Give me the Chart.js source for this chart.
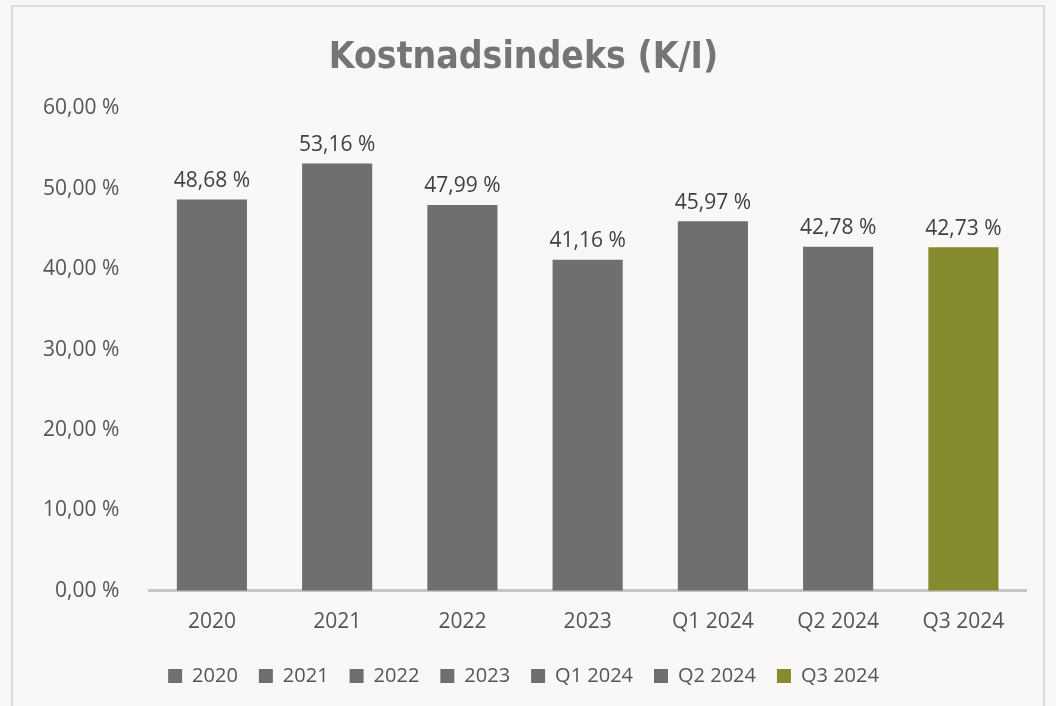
<!DOCTYPE html>
<html>
<head>
<meta charset="utf-8">
<script src="https://cdn.jsdelivr.net/npm/chart.js@4"></script>
<style>
  html, body { margin: 0; padding: 0; background: #f9f8f6; }
  #frame { position: absolute; left: 11px; top: 5px; width: 1034px; height: 720px; border: 2px solid #dcdcdc; box-sizing: border-box; }
  #wrap { position: absolute; left: 0; top: 0; width: 1056px; height: 706px; }
</style>
</head>
<body>
<div id="frame"></div>
<div id="wrap"><canvas id="chart"></canvas></div>
<script>
const categories = ["2020", "2021", "2022", "2023", "Q1 2024", "Q2 2024", "Q3 2024"];
const costIndex = [48.68, 53.16, 47.99, 41.16, 45.97, 42.78, 42.73];
const barColors = ["#6f706e", "#6f706e", "#6f706e", "#6f706e", "#6f706e", "#6f706e", "#878b30"];
const yTicks = [0, 10, 20, 30, 40, 50, 60];

const fmt = v => v.toFixed(2).replace(".", ",") + " %";
const textFont = "'Open Sans'";

// labels over each bar
const barLabels = {
    id: "barLabels",
    afterDatasetsDraw(chart) {
        const ctx = chart.ctx;
        ctx.save();
        ctx.font = "21px " + textFont;
        ctx.fillStyle = "#404040";
        ctx.textAlign = "center";
        ctx.textBaseline = "bottom";
        chart.getDatasetMeta(0).data.forEach((bar, i) => {
            ctx.fillText(fmt(costIndex[i]), bar.x, bar.y - 8);
        });
        ctx.restore();
    }
};

new Chart(document.getElementById("chart"), {
    type: "bar",
    data: {
        labels: categories,
        datasets: [{
            data: costIndex,
            backgroundColor: barColors,
            categoryPercentage: 1,
            barPercentage: 0.56
        }]
    },
    options: {
        responsive: true,
        maintainAspectRatio: false,
        animation: false,
        layout: { padding: { left: 21, right: 30, top: 18, bottom: 10 } },
        plugins: {
            title: {
                display: true,
                text: "Kostnadsindeks (K/I)",
                color: "#757575",
                font: { family: "'DejaVu Sans Condensed', 'DejaVu Sans'", size: 37, weight: "bold" },
                padding: { top: 18, bottom: 28 }
            },
            legend: {
                position: "bottom",
                labels: {
                    color: "#555555",
                    font: { family: textFont, size: 20 },
                    boxWidth: 14,
                    boxHeight: 14,
                    padding: 21,
                    generateLabels: () => categories.map((c, i) => ({
                        text: c,
                        fillStyle: barColors[i],
                        strokeStyle: barColors[i],
                        lineWidth: 0,
                        fontColor: "#555555",
                        index: i
                    }))
                }
            },
            tooltip: { enabled: false }
        },
        scales: {
            x: {
                grid: { display: false },
                border: { color: "#c6c6c6", width: 3 },
                ticks: { color: "#555555", font: { family: textFont, size: 21 }, padding: 11 },
                afterFit: s => { s.height -= 1; }
            },
            y: {
                min: 0,
                max: 60,
                afterBuildTicks: axis => { axis.ticks = yTicks.map(v => ({ value: v })); },
                grid: { display: false },
                border: { display: false },
                ticks: {
                    color: "#555555",
                    font: { family: textFont, size: 21 },
                    padding: 22,
                    callback: v => fmt(v)
                }
            }
        }
    },
    plugins: [barLabels]
});
</script>
</body>
</html>
